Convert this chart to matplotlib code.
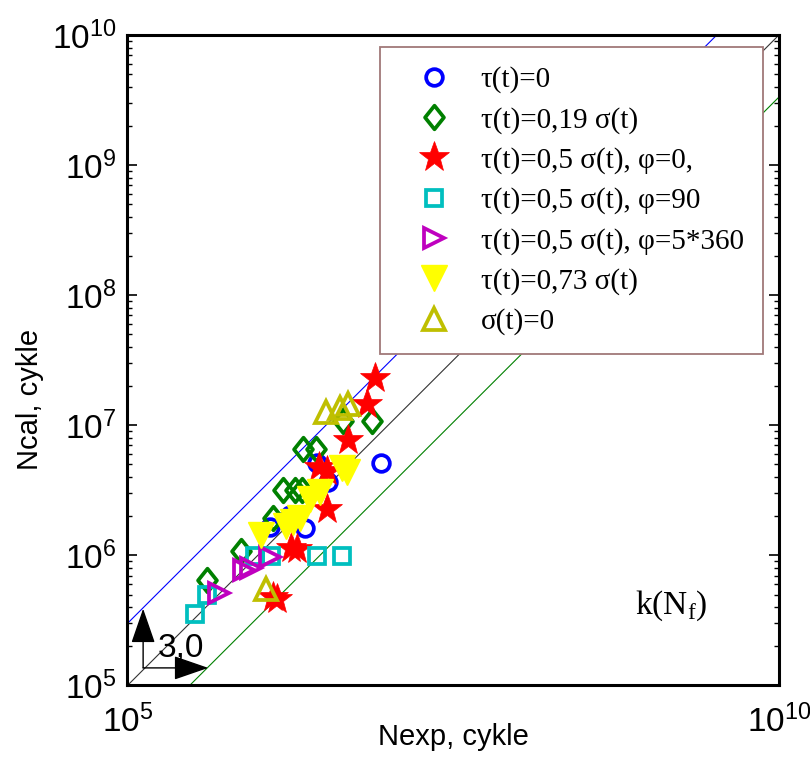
import matplotlib
matplotlib.use('Agg')
import matplotlib.pyplot as plt
from matplotlib.path import Path
from matplotlib.ticker import FixedLocator, FixedFormatter, LogLocator, NullFormatter, NullLocator

plt.rcParams['mathtext.fontset'] = 'custom'
plt.rcParams['mathtext.rm'] = 'Liberation Sans'
plt.rcParams['mathtext.it'] = 'Liberation Sans:italic'
plt.rcParams['mathtext.bf'] = 'Liberation Sans:bold'

# ---------------- data ----------------
series_labels = ['τ(t)=0', 'τ(t)=0,19 σ(t)', 'τ(t)=0,5 σ(t), φ=0,', 'τ(t)=0,5 σ(t), φ=90',
                 'τ(t)=0,5 σ(t), φ=5*360', 'τ(t)=0,73 σ(t)', 'σ(t)=0']

circ_nexp = [8.85e6, 2.85e6, 3.47e6, 1.77e6, 2.31e6, 1.24e6]
circ_ncal = [5.12e6, 5.12e6, 3.66e6, 2.04e6, 1.62e6, 1.65e6]

diam_nexp = [4.08e5, 7.45e5, 1.31e6, 1.56e6, 1.93e6, 2.19e6, 2.23e6, 2.81e6, 4.52e6, 7.55e6]
diam_ncal = [6.46e5, 1.08e6, 1.93e6, 3.18e6, 3.18e6, 3.18e6, 6.55e6, 6.55e6, 1.07e7, 1.07e7]

star_nexp = [7.96e6, 6.90e6, 4.94e6, 2.96e6, 3.40e6, 3.40e6, 1.80e6, 2.00e6, 1.31e6, 1.41e6]
star_ncal = [2.30e7, 1.45e7, 7.69e6, 4.76e6, 4.44e6, 2.27e6, 1.14e6, 1.12e6, 4.78e5, 4.61e5]

sq_nexp = [3.30e5, 4.08e5, 9.53e5, 1.27e6, 2.85e6, 4.44e6]
sq_ncal = [3.54e5, 4.95e5, 9.89e5, 9.89e5, 9.89e5, 9.89e5]

rtri_nexp = [5.04e5, 7.85e5, 8.89e5, 1.24e6]
rtri_ncal = [5.13e5, 7.71e5, 7.98e5, 9.71e5]

dtri_nexp = [1.06e6, 1.65e6, 1.87e6, 2.11e6, 2.52e6, 3.01e6, 4.44e6, 4.85e6]
dtri_ncal = [1.43e6, 1.68e6, 1.80e6, 1.93e6, 2.70e6, 3.06e6, 4.68e6, 4.36e6]

utri_nexp = [3.35e6, 4.29e6, 4.94e6, 1.16e6]
utri_ncal = [1.26e7, 1.35e7, 1.45e7, 5.51e5]

line_n = [1e5, 1e10]
band_factors = [3.0, 1.0, 1.0 / 3.0]
band_colors = ['#0000ff', '#333333', '#008000']

xtick_vals = [1e5, 1e10]
xtick_labels = [r'$\mathregular{10^{5}}$', r'$\mathregular{10^{10}}$']
ytick_vals = [1e5, 1e6, 1e7, 1e8, 1e9, 1e10]
ytick_labels = [r'$\mathregular{10^{%d}}$' % e for e in range(5, 11)]

# ---------------- figure ----------------
fig = plt.figure(figsize=(8.1, 7.57), dpi=100)
ax = fig.add_axes([0.1574, 0.0945, 0.8043, 0.8593])
ax.set_xscale('log')
ax.set_yscale('log')
ax.set_xlim(1e5, 1e10)
ax.set_ylim(1e5, 1e10)

for k, c in zip(band_factors, band_colors):
    ax.plot(line_n, [k * v for v in line_n], color=c, lw=0.8, zorder=1)

diamond = Path([(0, 1), (0.8, 0), (0, -1), (-0.8, 0), (0, 1)],
               [Path.MOVETO, Path.LINETO, Path.LINETO, Path.LINETO, Path.CLOSEPOLY])

mew = 2.7
h = []
h += ax.plot(circ_nexp, circ_ncal, 'o', ms=12, mfc='none', mec='#0000ff', mew=mew, label=series_labels[0])
h += ax.plot(diam_nexp, diam_ncal, ls='none', marker=diamond, ms=17, mfc='none', mec='#008000', mew=mew, label=series_labels[1])
h += ax.plot(star_nexp, star_ncal, '*', ms=23, mfc='#ff0000', mec='#ff0000', mew=0.5, label=series_labels[2])
h += ax.plot(sq_nexp, sq_ncal, 's', ms=12, mfc='none', mec='#00bfbf', mew=mew, label=series_labels[3])
h += ax.plot(rtri_nexp, rtri_ncal, '>', ms=15, mfc='none', mec='#bf00bf', mew=mew, label=series_labels[4])
h += ax.plot(dtri_nexp, dtri_ncal, 'v', ms=19, mfc='#ffff00', mec='#ffff00', mew=1, label=series_labels[5])
h += ax.plot(utri_nexp, utri_ncal, '^', ms=16, mfc='none', mec='#bfbf00', mew=mew, label=series_labels[6])

leg = ax.legend(handles=h, loc='upper right', bbox_to_anchor=(0.975, 0.981), borderaxespad=0,
                numpoints=1, handlelength=2.4, handletextpad=0.4, borderpad=0.65, labelspacing=0.46,
                fancybox=False, framealpha=1, edgecolor='#a07878',
                prop={'family': ['Liberation Serif', 'DejaVu Serif'], 'size': 21})
leg.get_frame().set_linewidth(1.3)
leg.set_zorder(5)

# axes styling
for sp in ax.spines.values():
    sp.set_linewidth(2.2)
    sp.set_color('black')

ax.xaxis.set_major_locator(FixedLocator(xtick_vals))
ax.xaxis.set_major_formatter(FixedFormatter(xtick_labels))
ax.xaxis.set_minor_locator(NullLocator())
ax.tick_params(axis='x', which='both', length=0, pad=14, labelsize=24)

ax.yaxis.set_major_locator(FixedLocator(ytick_vals))
ax.yaxis.set_major_formatter(FixedFormatter(ytick_labels))
ax.yaxis.set_minor_locator(LogLocator(base=10, subs=range(2, 10), numticks=20))
ax.yaxis.set_minor_formatter(NullFormatter())
ax.tick_params(axis='y', which='major', direction='in', length=7, width=1.2, left=True, right=True, pad=8, labelsize=24)
ax.tick_params(axis='y', which='minor', direction='in', length=3.5, width=1, left=True, right=True)

for lab in ax.get_xticklabels() + ax.get_yticklabels():
    lab.set_family('Liberation Sans')

ax.set_xlabel('Nexp, cykle', fontsize=21, family='Liberation Sans')
ax.set_ylabel('Ncal, cykle', fontsize=21, family='Liberation Sans')
ax.xaxis.set_label_coords(0.5, -0.058)
ax.yaxis.set_label_coords(-0.128, 0.44)

# arrows and annotation
arrow_kw = dict(arrowstyle='-|>,head_length=1.1,head_width=0.38', color='black', lw=1,
                mutation_scale=20, shrinkA=0, shrinkB=0)
ax.annotate('', xy=(0.024, 0.118), xytext=(0.024, 0.027), xycoords='axes fraction',
            textcoords='axes fraction', arrowprops=arrow_kw)
ax.annotate('', xy=(0.124, 0.027), xytext=(0.024, 0.027), xycoords='axes fraction',
            textcoords='axes fraction', arrowprops=arrow_kw)
ax.text(0.082, 0.057, '3,0', transform=ax.transAxes, ha='center', va='center',
        fontsize=24, family='Liberation Sans')
ax.text(0.835, 0.122, r'k(N$_{\mathregular{f}}$)', transform=ax.transAxes, ha='center', va='center',
        fontsize=24, family='Liberation Serif', math_fontfamily='custom')

fig.savefig('out.png', dpi=100)
